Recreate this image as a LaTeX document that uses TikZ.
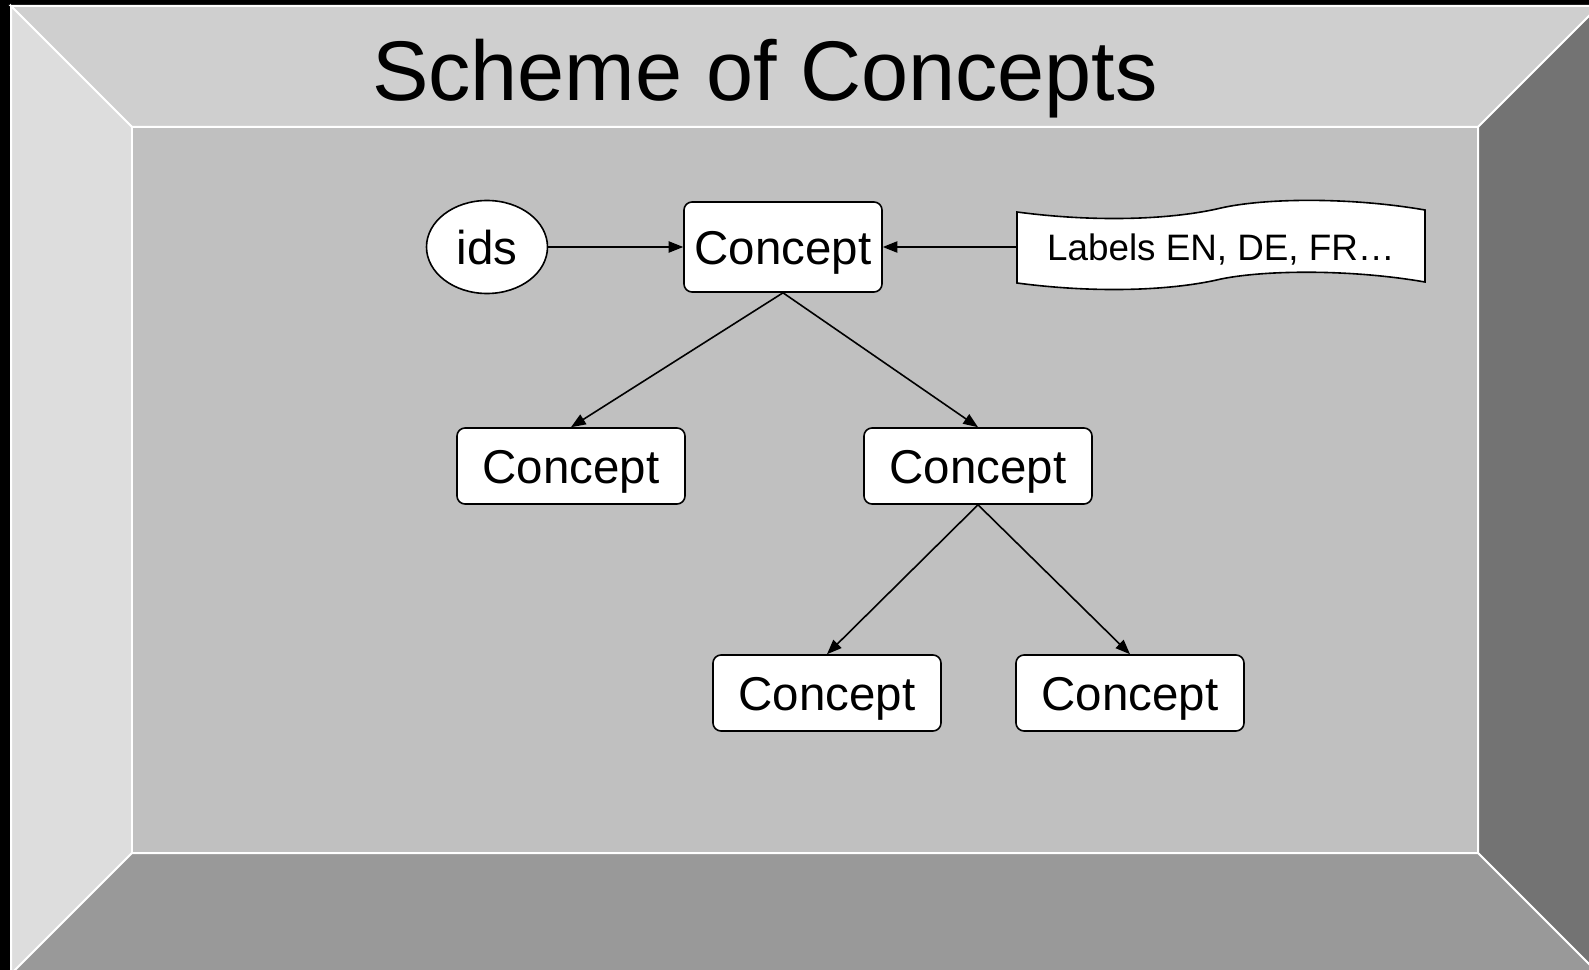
\documentclass[tikz,border=0pt]{standalone}
\usepackage{fontspec}
\setmainfont{Liberation Sans}
\usetikzlibrary{arrows.meta,shapes.geometric}

\definecolor{bevtop}{RGB}{207,207,207}
\definecolor{bevleft}{RGB}{221,221,221}
\definecolor{bevright}{RGB}{115,115,115}
\definecolor{bevbottom}{RGB}{153,153,153}
\definecolor{panel}{RGB}{192,192,192}

\tikzset{
  caps/.style={text height=#1, text depth=0pt},
  concept/.style={draw, fill=white, rounded corners=6pt, line width=1.2pt, inner sep=0pt, caps=25.5pt,
    minimum width=171pt, minimum height=57pt, font=\fontsize{35.6}{40}\selectfont},
  link/.style={-{Triangle[length=11pt,width=8.5pt]}, line width=1.2pt},
  bevel/.style={draw=white, line width=1.5pt}
}

\begin{document}
\begin{tikzpicture}[x=0.75pt,y=0.75pt,yscale=-1]

\clip (0,0) rectangle (1589,970);
\fill [black] (0,0) rectangle (1589,970);

%Shape: Bevel frame
\draw [bevel, fill=bevtop] (11,6) -- (1599,6) -- (1478,127) -- (132,127) -- cycle ;
\draw [bevel, fill=bevleft] (11,6) -- (132,127) -- (132,853) -- (11,974) -- cycle ;
\draw [bevel, fill=bevright] (1599,6) -- (1599,974) -- (1478,853) -- (1478,127) -- cycle ;
\draw [bevel, fill=bevbottom] (132,853) -- (1478,853) -- (1599,974) -- (11,974) -- cycle ;
\draw [bevel, fill=panel] (132,127) rectangle (1478,853) ;

%Title
\node [caps=45.5pt, inner sep=0pt, font=\fontsize{63.5}{70}\selectfont] (title) at (765,70) {Scheme of Concepts};

%Shape: Punched tape
\draw [line width=1.2pt, fill=white] (1017,212) .. controls (1100,223) and (1175,219) .. (1221,208) .. controls (1265,198) and (1350,197) .. (1425,210) -- (1425,282) .. controls (1350,269) and (1265,270) .. (1221,279) .. controls (1175,290) and (1100,294) .. (1017,283) -- cycle ;
\node [caps=19.8pt, minimum width=306pt, minimum height=53pt, inner sep=0pt, font=\fontsize{27.6}{32}\selectfont] (labels) at (1221,247) {Labels EN, DE, FR\ldots};

%Nodes
\node [draw, fill=white, ellipse, caps=25.5pt, line width=1.2pt, inner sep=0pt, minimum width=90.75pt, minimum height=69.75pt, font=\fontsize{35.6}{40}\selectfont] (ids) at (487,247) {ids};
\node [concept, minimum width=148.5pt, minimum height=67.5pt] (root) at (783,247) {Concept};
\node [concept] (left) at (571,466) {Concept};
\node [concept] (right) at (978,466) {Concept};
\node [concept] (leafa) at (827,693) {Concept};
\node [concept] (leafb) at (1130,693) {Concept};

%Connectors
\draw [link] (ids) -- (root) ;
\draw [link] (labels.west) -- (root.east) ;
\draw [link] (root.south) -- (left.north) ;
\draw [link] (root.south) -- (right.north) ;
\draw [link] (right.south) -- (leafa.north) ;
\draw [link] (right.south) -- (leafb.north) ;

\end{tikzpicture}
\end{document}
